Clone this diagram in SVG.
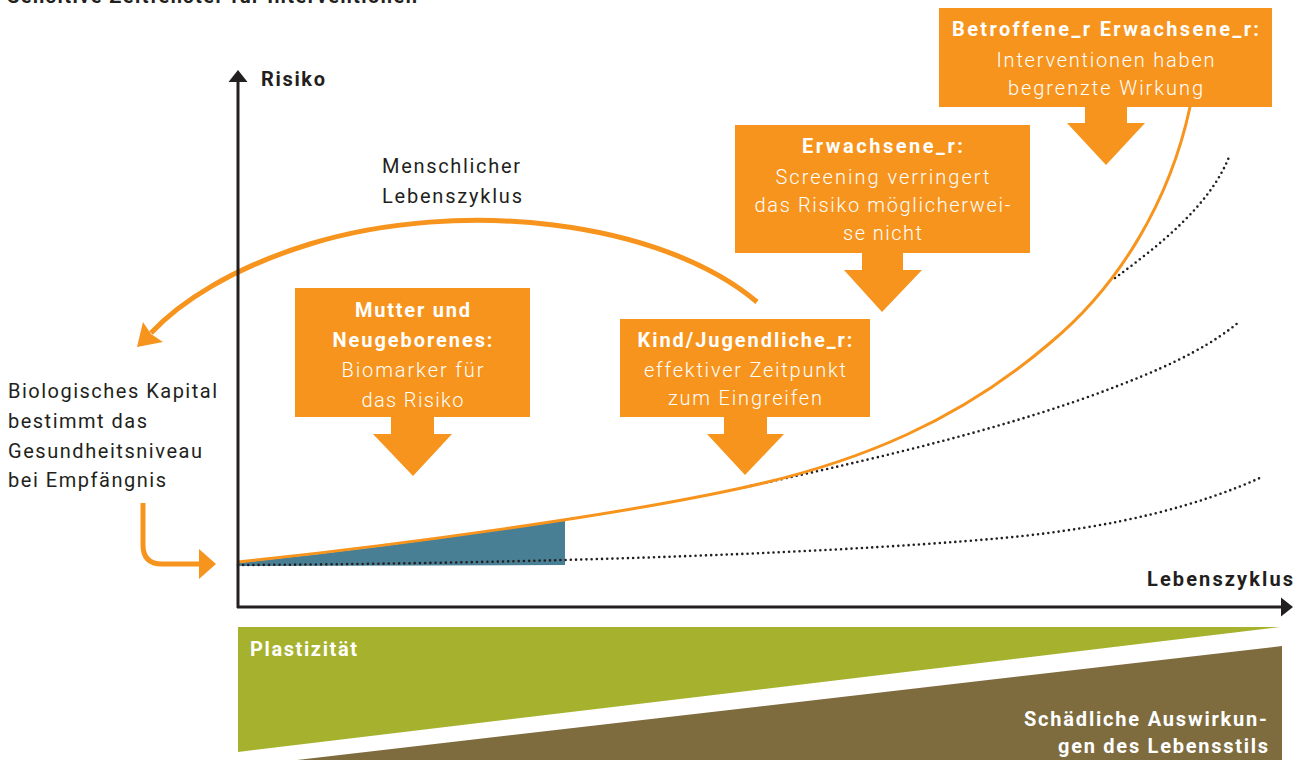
<svg xmlns="http://www.w3.org/2000/svg" width="1306" height="760" viewBox="0 0 1306 760">
  <style>
    .ink { fill: #231f20; }
    .bold { font-family: Roboto, "Liberation Sans", sans-serif; font-weight: 700; font-size: 20px; }
    .reg { font-family: Roboto, "Liberation Sans", sans-serif; font-weight: 400; font-size: 20px; fill: #231f20; }
    .box { fill: #f7941d; }
    .boxtitle { font-family: Roboto, "Liberation Sans", sans-serif; font-weight: 700; font-size: 20px; fill: #ffffff; text-anchor: middle; }
    .boxtext { font-family: Roboto, "Liberation Sans", sans-serif; font-weight: 300; font-size: 20px; fill: #ffffff; text-anchor: middle; }
    .dots { fill: none; stroke: #231f20; stroke-width: 2.6; stroke-linecap: round; stroke-dasharray: 0 5.2; }
    .orange { fill: none; stroke: #f7941d; stroke-width: 3; }
    .axis { fill: none; stroke: #231f20; stroke-width: 3; }
  </style>

  <rect width="1306" height="760" fill="#ffffff"/>

  <!-- heading, clipped at the top edge -->
  <text class="bold ink" x="7" y="3" textLength="410" lengthAdjust="spacing">Sensitive Zeitfenster für Interventionen</text>

  <!-- bottom bands -->
  <g id="plastizitaet">
    <polygon points="238,627 1280,627 238,752" fill="#a6b22d"/>
    <text class="bold" x="250" y="656" fill="#ffffff" font-size="19" textLength="107" lengthAdjust="spacing">Plastizität</text>
  </g>
  <g id="lebensstil">
    <polygon points="297,760 1282,646 1282,760" fill="#7e6c3f"/>
    <text class="bold" x="1024" y="726" fill="#ffffff" font-size="19" textLength="243" lengthAdjust="spacing">Schädliche Auswirkun-</text>
    <text class="bold" x="1058" y="753" fill="#ffffff" font-size="19" textLength="210" lengthAdjust="spacing">gen des Lebensstils</text>
  </g>

  <!-- shaded early-life area -->
  <path d="M238,563 Q400,546 565,520 L565,565 L238,566 Z" fill="#487f95"/>

  <g id="connectors">
    <!-- risk trajectories -->
    <path class="dots" d="M238,565 C480,564 800,556 1003,538 C1120,527 1200,505 1262,477"/>
    <path class="dots" d="M746,487 C850,464 1000,432 1120,385 C1180,362 1215,342 1239,322"/>
    <path class="dots" d="M1115,278 C1160,245 1210,205 1229,157"/>
    <path class="orange" d="M238,562 C400,545 620,515 746,487 C860,462 960,420 1050,343 C1120,285 1170,200 1190,107"/>

    <!-- life-cycle arc -->
    <path fill="none" stroke="#f7941d" stroke-width="5" d="M757,302 C660,220 460,198 310,244 C232,268 180,302 151,333"/>
    <polygon points="137,347 143,322 151,334 163,342" fill="#f7941d"/>

    <!-- conception arrow -->
    <path fill="none" stroke="#f7941d" stroke-width="5" d="M143,503 L143,545 Q143,564 162,564 L202,564"/>
    <polygon points="199,549 216,564 199,579" fill="#f7941d"/>

    <!-- axes -->
    <line class="axis" x1="238" y1="608" x2="238" y2="80"/>
    <polygon points="238,70 228.5,82 247.5,82" class="ink"/>
    <line class="axis" x1="237" y1="607" x2="1283" y2="607"/>
    <polygon points="1293,607 1281,597.5 1281,616.5" class="ink"/>
  </g>

  <!-- axis labels and annotations -->
  <text class="bold ink" x="261" y="86" textLength="64" lengthAdjust="spacing">Risiko</text>
  <text class="bold ink" x="1147" y="586" textLength="146" lengthAdjust="spacing">Lebenszyklus</text>
  <g id="lebenszyklus-label">
    <text class="reg" x="382" y="173" textLength="138" lengthAdjust="spacing">Menschlicher</text>
    <text class="reg" x="382" y="203" textLength="140" lengthAdjust="spacing">Lebenszyklus</text>
  </g>
  <g id="kapital-label">
    <text class="reg" x="8" y="398" textLength="209" lengthAdjust="spacing">Biologisches Kapital</text>
    <text class="reg" x="8" y="428" textLength="139" lengthAdjust="spacing">bestimmt das</text>
    <text class="reg" x="8" y="458" textLength="194" lengthAdjust="spacing">Gesundheitsniveau</text>
    <text class="reg" x="8" y="487" textLength="158" lengthAdjust="spacing">bei Empfängnis</text>
  </g>

  <!-- stage boxes with downward arrows -->
  <g id="mutter">
    <rect class="box" x="295" y="288" width="235" height="129"/>
    <polygon class="box" points="391,416 434,416 434,434 452,434 413,476 373,434 391,434"/>
    <text class="boxtitle" x="412.5" y="317" textLength="115" lengthAdjust="spacing">Mutter und</text>
    <text class="boxtitle" x="412.5" y="347" textLength="160" lengthAdjust="spacing">Neugeborenes:</text>
    <text class="boxtext" x="412.5" y="377" textLength="142" lengthAdjust="spacing">Biomarker für</text>
    <text class="boxtext" x="412.5" y="407" textLength="102" lengthAdjust="spacing">das Risiko</text>
  </g>

  <g id="kind">
    <rect class="box" x="620" y="319" width="250" height="98"/>
    <polygon class="box" points="724,416 767,416 767,434 784,434 745,475 707,434 724,434"/>
    <text class="boxtitle" x="745" y="347" textLength="215" lengthAdjust="spacing">Kind/Jugendliche_r:</text>
    <text class="boxtext" x="745" y="377" textLength="202" lengthAdjust="spacing">effektiver Zeitpunkt</text>
    <text class="boxtext" x="745" y="405" textLength="154" lengthAdjust="spacing">zum Eingreifen</text>
  </g>

  <g id="erwachsene">
    <rect class="box" x="735" y="125" width="295" height="128"/>
    <polygon class="box" points="862,252 903,252 903,270 922,270 882,312 844,270 862,270"/>
    <text class="boxtitle" x="882.5" y="153" textLength="161" lengthAdjust="spacing">Erwachsene_r:</text>
    <text class="boxtext" x="882.5" y="184" textLength="214" lengthAdjust="spacing">Screening verringert</text>
    <text class="boxtext" x="882.5" y="212" textLength="256" lengthAdjust="spacing">das Risiko möglicherwei-</text>
    <text class="boxtext" x="882.5" y="240" textLength="79" lengthAdjust="spacing">se nicht</text>
  </g>

  <g id="betroffene">
    <rect class="box" x="939" y="8" width="333" height="99"/>
    <polygon class="box" points="1085,106 1127,106 1127,123 1145,123 1106,165 1067,123 1085,123"/>
    <text class="boxtitle" x="1105.5" y="36" textLength="307" lengthAdjust="spacing">Betroffene_r Erwachsene_r:</text>
    <text class="boxtext" x="1105.5" y="67" textLength="218" lengthAdjust="spacing">Interventionen haben</text>
    <text class="boxtext" x="1105.5" y="95" textLength="195" lengthAdjust="spacing">begrenzte Wirkung</text>
  </g>
</svg>
